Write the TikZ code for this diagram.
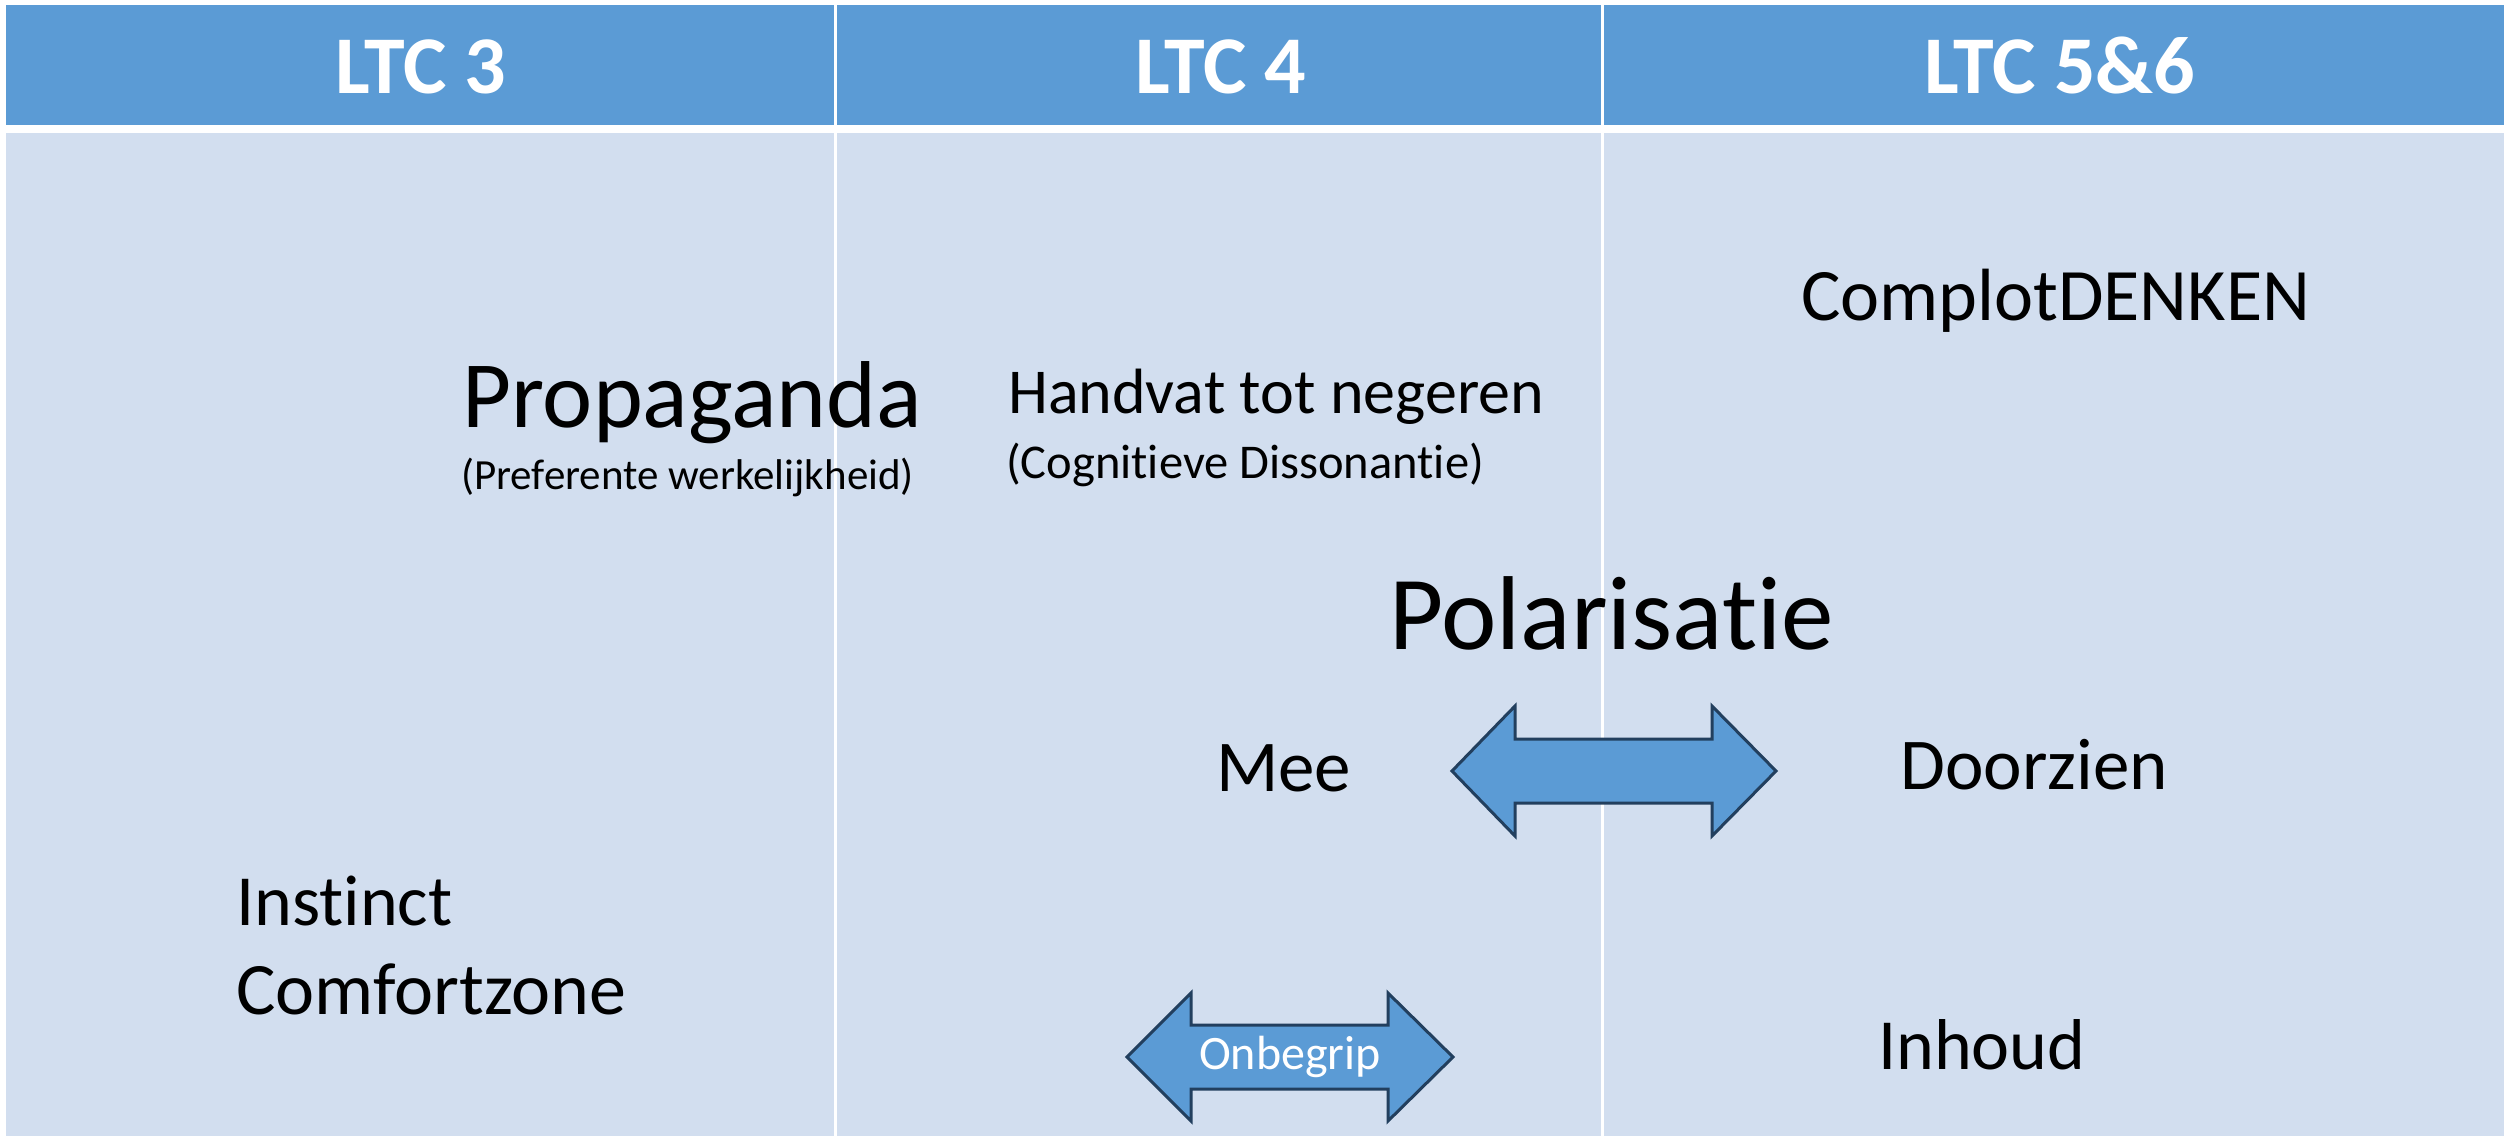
\documentclass[tikz,border=0pt]{standalone}
\usepackage{fontspec}
\setmainfont{Carlito}[Ligatures=NoCommon, RawFeature={-liga;-clig;-calt;-dlig}]
\usepackage{tikz}
\usetikzlibrary{positioning}

\definecolor{headblue}{HTML}{5B9BD5}
\definecolor{cellblue}{HTML}{D2DEEF}
\definecolor{arrowline}{HTML}{223F5E}

\newcommand{\fsz}[1]{\fontsize{#1}{#1}\selectfont}

\begin{document}
\begin{tikzpicture}[x=1pt, y=-1pt,
    txt/.style={anchor=base west, inner sep=0pt, text=black},
    headtxt/.style={anchor=base, inner sep=0pt, text=white, font=\fsz{82}\bfseries},
    dblarrow/.style={fill=headblue, draw=arrowline, line width=3pt, line join=miter}]
    % Canvas
    \useasboundingbox (0,0) rectangle (2504,1136);
    \fill[white] (0,0) rectangle (2504,1136);

    % Table cells
    \fill[headblue] (6,5) rectangle (2504,125);
    \fill[cellblue] (6,133) rectangle (2504,1136);
    \draw[white, line width=3pt] (835,0) -- (835,1136);
    \draw[white, line width=3pt] (1602,0) -- (1602,1136);

    % Column heads
    \node[headtxt] (ltc3) at (421,93) {LTC 3};
    \node[headtxt] (ltc4) at (1221,93) {LTC 4};
    \node[headtxt] (ltc56) at (2060,93) {LTC 5\&6};

    % Texts
    \node[txt, font=\fsz{74}] (complot) at (1801,320) {ComplotDENKEN};
    \node[txt, font=\fsz{95}] (propaganda) at (462,427) {Propaganda};
    \node[txt, font=\fsz{43}] (preferent) at (461,489) {(Preferente werkelijkheid)};
    \node[txt, font=\fsz{64}] (handvat) at (1008,413) {Handvat tot negeren};
    \node[txt, font=\fsz{48.5}] (cognitief) at (1006,478) {(Cognitieve Dissonantie)};
    \node[txt, font=\fsz{105}] (polarisatie) at (1389,649) {Polarisatie};
    \node[txt, font=\fsz{73}] (mee) at (1216,791) {Mee};
    \node[txt, font=\fsz{73}] (doorzien) at (1900,789) {Doorzien};
    \node[txt, font=\fsz{72}] (instinct) at (236,925) {Instinct};
    \node[txt, font=\fsz{74}] (comfort) at (236,1014) {Comfortzone};
    \node[txt, font=\fsz{72}] (inhoud) at (1878,1069) {Inhoud};

    % Double arrows
    \draw[dblarrow] (1452,771) -- (1515,706) -- (1515,739) -- (1712,739) -- (1712,706)
        -- (1776,771) -- (1712,836) -- (1712,803) -- (1515,803) -- (1515,836) -- cycle;
    \draw[dblarrow] (1127,1057) -- (1191,993) -- (1191,1025) -- (1388,1025) -- (1388,993)
        -- (1453,1057) -- (1388,1121) -- (1388,1089) -- (1191,1089) -- (1191,1121) -- cycle;
    \node[inner sep=0pt, text=white, font=\fsz{48}] (onbegrip) at (1290,1057) {Onbegrip};
\end{tikzpicture}
\end{document}
